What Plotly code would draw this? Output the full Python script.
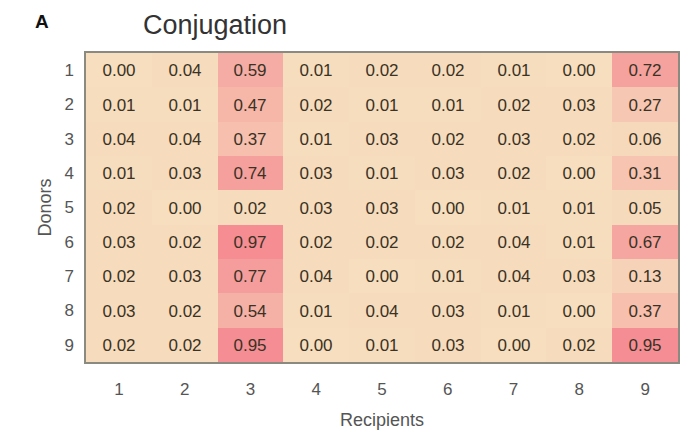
import plotly.graph_objects as go

recipients = [1, 2, 3, 4, 5, 6, 7, 8, 9]
donors = [1, 2, 3, 4, 5, 6, 7, 8, 9]
values = [
    [0.00, 0.04, 0.59, 0.01, 0.02, 0.02, 0.01, 0.00, 0.72],
    [0.01, 0.01, 0.47, 0.02, 0.01, 0.01, 0.02, 0.03, 0.27],
    [0.04, 0.04, 0.37, 0.01, 0.03, 0.02, 0.03, 0.02, 0.06],
    [0.01, 0.03, 0.74, 0.03, 0.01, 0.03, 0.02, 0.00, 0.31],
    [0.02, 0.00, 0.02, 0.03, 0.03, 0.00, 0.01, 0.01, 0.05],
    [0.03, 0.02, 0.97, 0.02, 0.02, 0.02, 0.04, 0.01, 0.67],
    [0.02, 0.03, 0.77, 0.04, 0.00, 0.01, 0.04, 0.03, 0.13],
    [0.03, 0.02, 0.54, 0.01, 0.04, 0.03, 0.01, 0.00, 0.37],
    [0.02, 0.02, 0.95, 0.00, 0.01, 0.03, 0.00, 0.02, 0.95],
]
text = [[f"{v:.2f}" for v in row] for row in values]

L, R, T, B = 86, 13, 53, 70
W, H = 691, 432

fig = go.Figure(go.Heatmap(
    x=recipients, y=donors, z=values, text=text,
    texttemplate="%{text}",
    textfont=dict(family="Liberation Sans, Arial", size=17, color="#3a3224"),
    colorscale=[[0, "rgb(246,222,190)"], [1, "rgb(245,138,146)"]],
    zmin=0, zmax=1, showscale=False, xgap=0, ygap=0, hoverinfo="skip",
))

fig.update_layout(
    width=W, height=H,
    margin=dict(l=L, r=R, t=T, b=B, autoexpand=False),
    paper_bgcolor="white", plot_bgcolor="white",
    font=dict(family="Liberation Sans, Arial", color="#444"),
    xaxis=dict(tickmode="array", tickvals=recipients, ticks="outside", ticklen=11,
               tickcolor="rgba(0,0,0,0)", showgrid=False, automargin=False,
               zeroline=False, tickfont=dict(size=17, color="#555"),
               title=dict(text="Recipients", font=dict(size=18, color="#555"), standoff=15),
               showline=True, linecolor="#8a8a80", mirror=True, linewidth=1.5),
    yaxis=dict(tickmode="array", tickvals=donors, ticks="outside", ticklen=7,
               tickcolor="rgba(0,0,0,0)", showgrid=False, automargin=False,
               zeroline=False, autorange="reversed", tickfont=dict(size=17, color="#555"),
               title=dict(text="Donors", font=dict(size=18, color="#555"), standoff=8),
               showline=True, linecolor="#8a8a80", mirror=True, linewidth=1.5),
)

pw, ph = W - L - R, H - T - B
def ann(text, px, py, size, color, anchor="center"):
    fig.add_annotation(text=text, x=(px - L) / pw, y=1 - (py - T) / ph,
                       xref="paper", yref="paper", showarrow=False,
                       font=dict(size=size, color=color), xanchor=anchor, yanchor="middle")

ann("<b>A</b>", 33, 22, 19, "#111", "left")
ann("Conjugation", 215, 25, 27, "#333")

fig.write_html("out.html", config={"displayModeBar": False},
               post_script="document.body.style.margin='0';document.body.style.overflow='hidden';")
